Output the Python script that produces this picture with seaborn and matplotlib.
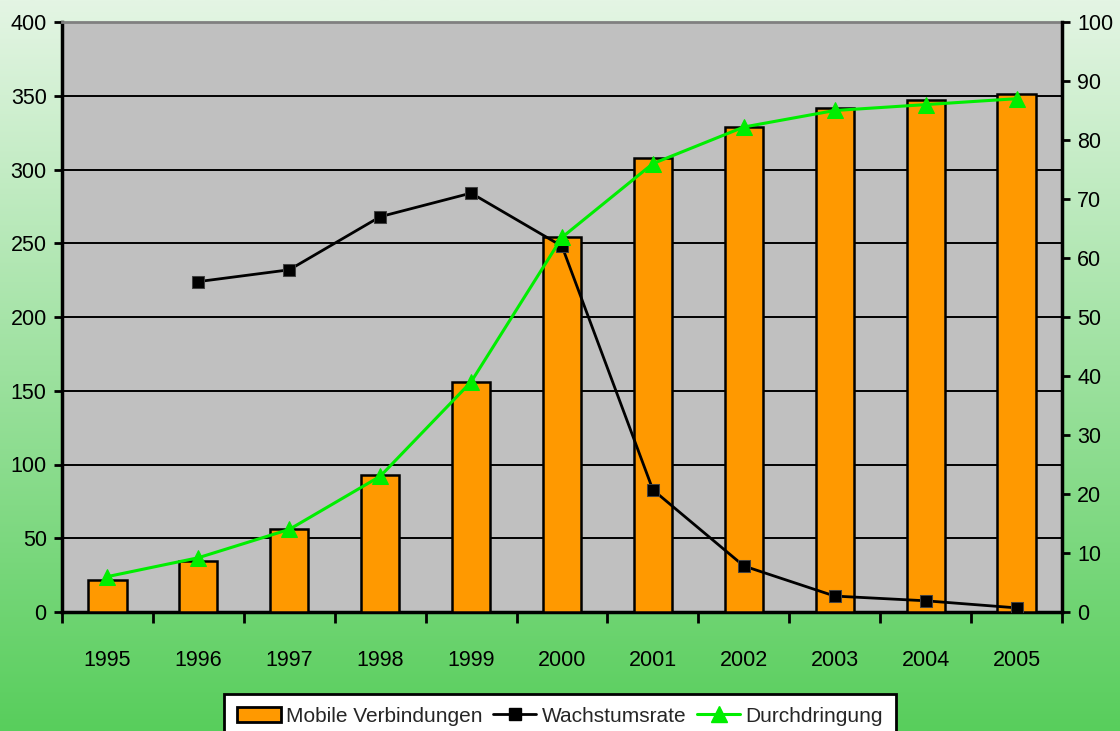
import numpy as np
import pandas as pd
import matplotlib
matplotlib.use("Agg")
import matplotlib.pyplot as plt
import seaborn as sns
from matplotlib.lines import Line2D
from matplotlib.patches import Patch

years = ["1995", "1996", "1997", "1998", "1999", "2000", "2001", "2002", "2003", "2004", "2005"]
mobile = [22, 34.5, 56, 93, 156, 254, 308, 329, 342, 347, 351]
wachstum = [np.nan, 56, 58, 67, 71, 62, 20.7, 7.8, 2.7, 1.9, 0.7]
durchdringung = [6, 9.2, 14, 23, 39, 63.5, 76, 82.2, 85, 86, 87]

sns.set_theme(style="white")
plt.rcParams['font.family'] = ['Liberation Sans', 'DejaVu Sans']

fig = plt.figure(figsize=(11.2, 7.31), dpi=100)

# gradient background
bg = fig.add_axes([0, 0, 1, 1], zorder=-10)
top = np.array([228, 245, 228]) / 255
bot = np.array([88, 206, 92]) / 255
t = np.linspace(0, 1, 256)[:, None]
grad = top[None, :] * (1 - t) + bot[None, :] * t
bg.imshow(grad[:, None, :], aspect='auto', extent=[0, 1, 0, 1])
bg.axis('off')

ax = fig.add_axes([62/1120, (731-612)/731, 1000/1120, 590/731])
ax.set_facecolor('#C0C0C0')

df = pd.DataFrame({"year": years, "mobile": mobile, "wachstum": wachstum, "durch": durchdringung})
df["pos"] = np.arange(len(years))

sns.barplot(data=df, x="year", y="mobile", ax=ax, color="#FF9900", width=0.42,
            edgecolor="black", linewidth=1.8, saturation=1, zorder=3)
ax.set_ylim(0, 400)
ax.set_xlim(-0.5, len(years) - 0.5)
ax.set_yticks(np.arange(0, 401, 50))
ax.grid(axis='y', color='black', linewidth=1.4, zorder=0)
ax.set_axisbelow(True)
ax.set_xlabel("")
ax.set_ylabel("")

ax2 = ax.twinx()
sns.lineplot(data=df, x="pos", y="wachstum", ax=ax2, color="black", linewidth=2,
             marker="s", markersize=8, markerfacecolor="black", markeredgecolor="#404040")
sns.lineplot(data=df, x="pos", y="durch", ax=ax2, color="#00EE00", linewidth=2.2,
             marker="^", markersize=12, markerfacecolor="#00EE00", markeredgecolor="#00EE00")
ax2.set_ylim(0, 100)
ax2.set_yticks(np.arange(0, 101, 10))
ax2.set_xlim(-0.5, len(years) - 0.5)
ax2.set_xlabel("")
ax2.set_ylabel("")
ax2.grid(False)

for a in (ax, ax2):
    for s in a.spines.values():
        s.set_visible(False)
ax.spines['left'].set_visible(True)
ax.spines['left'].set_color('black')
ax.spines['left'].set_linewidth(2.5)
ax.spines['bottom'].set_visible(True)
ax.spines['bottom'].set_color('black')
ax.spines['bottom'].set_linewidth(2.5)
ax.spines['top'].set_visible(True)
ax.spines['top'].set_color('#808080')
ax.spines['top'].set_linewidth(2)
ax2.spines['right'].set_visible(True)
ax2.spines['right'].set_color('black')
ax2.spines['right'].set_linewidth(2.5)

ax.tick_params(axis='y', left=True, length=6, width=2, color='black', labelsize=15.5, pad=5, labelcolor='black')
ax2.tick_params(axis='y', right=True, length=6, width=2, color='black', labelsize=15.5, pad=5, labelcolor='black')
ax.set_xticks(np.arange(len(years)))
ax.set_xticklabels(years)
ax.set_xticks(np.arange(len(years) + 1) - 0.5, minor=True)
ax.tick_params(axis='x', which='major', length=0, labelsize=15.5, pad=27, labelcolor='black')
ax.tick_params(axis='x', which='minor', bottom=True, length=8, width=2, color='black')

handles = [Patch(facecolor="#FF9900", edgecolor="black", linewidth=2),
           Line2D([], [], color="black", linewidth=2, marker="s", markersize=8),
           Line2D([], [], color="#00EE00", linewidth=2.2, marker="^", markersize=11)]
labels = ["Mobile Verbindungen", "Wachstumsrate", "Durchdringung"]
leg = fig.legend(handles, labels, loc='upper center', bbox_to_anchor=(0.5, 37/731), ncol=3,
                 fontsize=15, frameon=True, fancybox=False, edgecolor='black', facecolor='white',
                 framealpha=1, handlelength=2.1, handletextpad=0.25, columnspacing=0.5,
                 borderpad=0.6, borderaxespad=0)
leg.get_frame().set_linewidth(2)

fig.savefig("out.png", dpi=100)
